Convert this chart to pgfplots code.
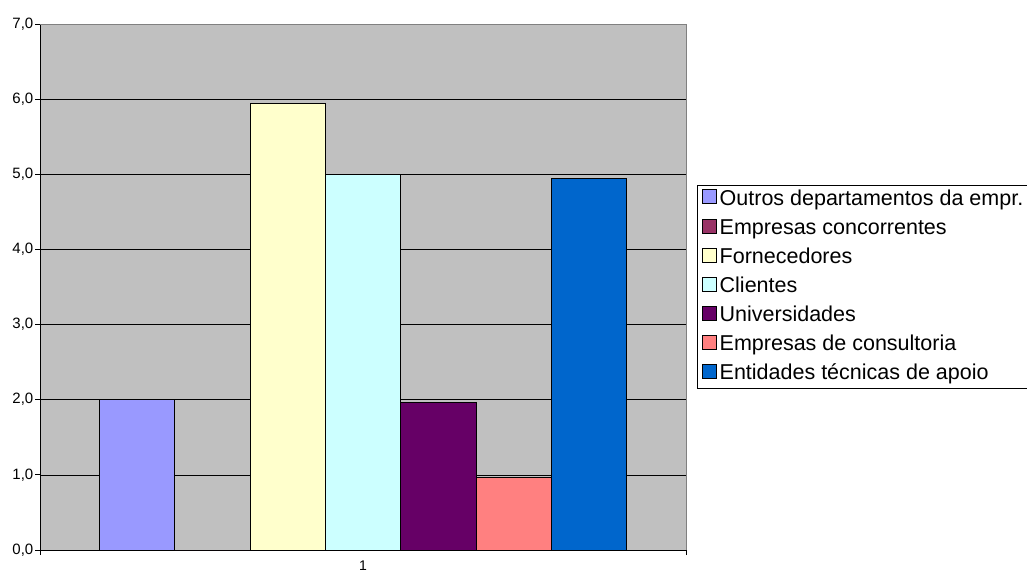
\documentclass[border=0pt]{standalone}
\usepackage{fontspec}
\setmainfont{Liberation Sans}
\usepackage{pgfplots}
\pgfplotsset{compat=1.18}

\definecolor{plotbg}{HTML}{C0C0C0}
\definecolor{cOutros}{HTML}{9999FF}
\definecolor{cConc}{HTML}{993366}
\definecolor{cForn}{HTML}{FFFFCC}
\definecolor{cCli}{HTML}{CCFFFF}
\definecolor{cUniv}{HTML}{660066}
\definecolor{cCons}{HTML}{FF8080}
\definecolor{cEnt}{HTML}{0066CC}

\begin{document}
\begin{tikzpicture}
\path[use as bounding box] (0,0) rectangle (1027pt,574pt);
\begin{axis}[
  at={(40pt,24pt)}, anchor=south west,
  scale only axis, width=646pt, height=526pt,
  xmin=0.5, xmax=1.5, ymin=0, ymax=7,
  axis x line=bottom, axis y line=left,
  axis line style={-, black, line width=0.8pt},
  axis background/.style={fill=plotbg},
  ybar=0pt, bar width=0.1167,
  ytick={0,1,2,3,4,5,6,7},
  ymajorgrids,
  major grid style={black, line width=0.7pt},
  tick align=outside,
  major tick length=5pt,
  tick style={black, line width=0.8pt},
  xtick={0.5,1.5}, xticklabels={},
  extra x ticks={1}, extra x tick labels={1},
  extra x tick style={major tick length=0pt, grid=none},
  yticklabel style={font=\fontsize{15}{18}\selectfont, inner xsep=1.5pt},
  xticklabel style={font=\fontsize{14}{17}\selectfont, yshift=-7.5pt},
  /pgf/number format/.cd, fixed, fixed zerofill, precision=1, use comma, assume math mode=true,
  /pgfplots/.cd,
  every axis plot/.append style={draw=black, line width=0.8pt},
  legend image code/.code={\draw[#1, draw=black, line width=0.8pt] (0pt,-4pt) rectangle (14pt,10pt);},
  legend cell align=left,
  legend style={
    at={(1.017,0.694)}, anchor=north west,
    draw=black, line width=0.8pt, fill=white,
    font=\fontsize{21.5}{25}\selectfont,
    inner xsep=5pt, inner ysep=4pt,
    row sep=9pt,
    nodes={inner xsep=2.5pt, inner ysep=0pt, text height=15pt, text depth=4.5pt},
  },
  after end axis/.code={
    \draw[gray, line width=0.8pt] (rel axis cs:0,1) -- (rel axis cs:1,1) -- (rel axis cs:1,0);
  },
]
\addplot[fill=cOutros] coordinates {(1,2.00)};
\addlegendentry{Outros departamentos da empr.}
\addplot[fill=cConc] coordinates {(1,0)};
\addlegendentry{Empresas concorrentes}
\addplot[fill=cForn] coordinates {(1,5.95)};
\addlegendentry{Fornecedores}
\addplot[fill=cCli] coordinates {(1,5.00)};
\addlegendentry{Clientes}
\addplot[fill=cUniv] coordinates {(1,1.96)};
\addlegendentry{Universidades}
\addplot[fill=cCons] coordinates {(1,0.96)};
\addlegendentry{Empresas de consultoria}
\addplot[fill=cEnt] coordinates {(1,4.95)};
\addlegendentry{Entidades técnicas de apoio}
\end{axis}
\end{tikzpicture}
\end{document}
